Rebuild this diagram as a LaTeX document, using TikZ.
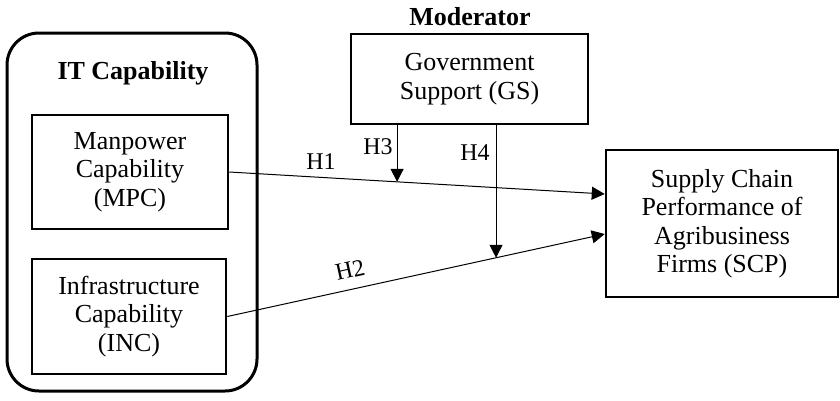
\documentclass[tikz,border=0pt]{standalone}
\usepackage{fontspec}
\setmainfont{Liberation Serif}
\usetikzlibrary{arrows.meta,calc}
\begin{document}
\begin{tikzpicture}[x=1pt,y=-1pt,
  txt/.style={font=\fontsize{26}{28.5}\selectfont, align=center, inner sep=0pt},
  box/.style={draw, line width=2.5pt, txt},
  hlab/.style={font=\fontsize{24}{26}\selectfont, inner sep=0pt},
  conn/.style={line width=1pt, -{Triangle[length=13pt,width=13pt]}}]
\useasboundingbox (0,0) rectangle (840,400);
% outer IT capability box
\node[draw, line width=3pt, rounded corners=32pt, minimum width=250pt, minimum height=358pt, inner sep=0pt] (itc) at (132,212) {};
\node[txt, font=\fontsize{26}{28.5}\selectfont\bfseries] (itlab) at (133,73) {IT Capability};
\node[box, minimum width=196pt, minimum height=114pt] (mpc) at (130,172) {Manpower\\Capability\\(MPC)};
\node[box, minimum width=194pt, minimum height=115pt] (inc) at (129,316.5) {Infrastructure\\Capability\\(INC)};
% moderator
\node[txt, font=\fontsize{26}{28.5}\selectfont\bfseries] (modlab) at (470,17) {Moderator};
\node[box, minimum width=237pt, minimum height=90pt] (gs) at (469.5,79) {Government\\Support (GS)};
% outcome
\node[box, minimum width=232pt, minimum height=147pt] (scp) at (722,223.5) {Supply Chain\\Performance of\\Agribusiness\\Firms (SCP)};
% end points on SCP
\coordinate (e1) at ([yshift=29.5pt]scp.west);
\coordinate (e2) at ([yshift=-10.5pt]scp.west);
\draw[conn] (mpc.east) -- (e1);
\draw[conn] (inc.east) -- (e2);
% moderator arrows
\coordinate (m1) at ($(mpc.east)!0.447!(e1)$);
\coordinate (m2) at ($(inc.east)!0.712!(e2)$);
\draw[conn] (gs.south -| m1) -- (m1);
\draw[conn] (gs.south -| m2) -- (m2);
% labels
\node[hlab] (h1) at (321,162) {H1};
\node[hlab] (h3) at (378,147) {H3};
\node[hlab] (h4) at (475,153) {H4};
\node[hlab, rotate=12.5] (h2) at (350,270) {H2};
\end{tikzpicture}
\end{document}
